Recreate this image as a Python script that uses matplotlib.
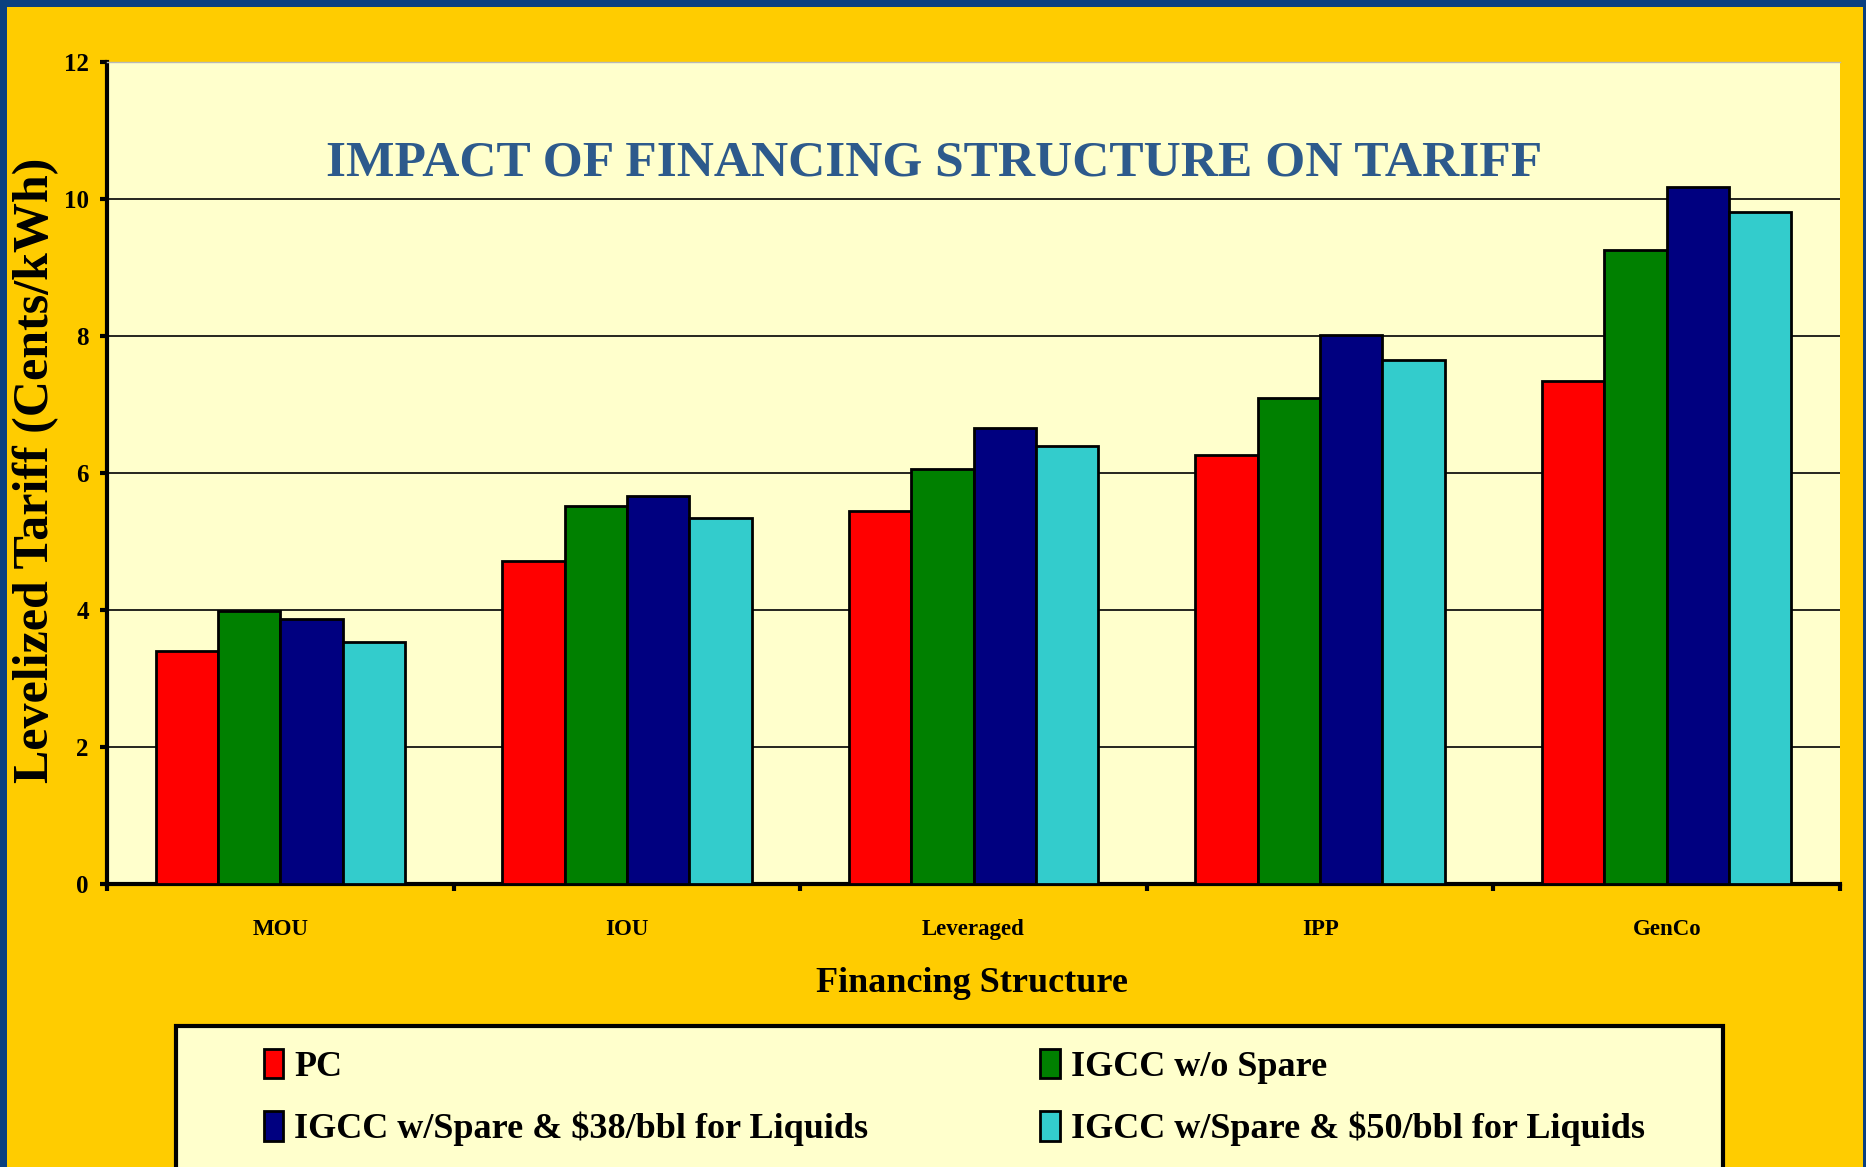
import matplotlib
matplotlib.use("Agg")
import matplotlib.pyplot as plt
from matplotlib.patches import Rectangle, Patch
import numpy as np

plt.rcParams['font.family'] = ['Liberation Serif', 'DejaVu Serif']
plt.rcParams['font.weight'] = 'bold'

# data
categories = ['MOU', 'IOU', 'Leveraged', 'IPP', 'GenCo']
series_names = ['PC', 'IGCC w/o Spare',
                'IGCC w/Spare & $38/bbl for Liquids',
                'IGCC w/Spare & $50/bbl for Liquids']
pc = [3.40, 4.72, 5.45, 6.27, 7.35]
igcc_no_spare = [3.99, 5.52, 6.06, 7.09, 9.25]
igcc_38 = [3.87, 5.66, 6.66, 8.01, 10.17]
igcc_50 = [3.54, 5.35, 6.39, 7.65, 9.81]
colors = ['#FF0000', '#008000', '#000080', '#33CCCC']

W, H = 1866, 1167
fig = plt.figure(figsize=(W / 100, H / 100), dpi=100, facecolor='#0B4080')

# yellow slide panel
fig.patches.append(Rectangle((7 / W, 0), (1863 - 7) / W, 1 - 7 / H,
                             transform=fig.transFigure, facecolor='#FFCC00',
                             edgecolor='none', zorder=0))

ax = fig.add_axes([107 / W, 1 - 884 / H, (1840 - 107) / W, (884 - 62) / H])
ax.set_zorder(3)
ax.set_facecolor('#FFFFCC')

x = np.arange(len(categories))
bw = 0.18
all_series = [pc, igcc_no_spare, igcc_38, igcc_50]
for i in range(len(all_series)):
    ax.bar(x + (i - 1.5) * bw, all_series[i], bw, color=colors[i],
           edgecolor='black', linewidth=2, zorder=3)

ax.set_ylim(0, 12)
ax.set_xlim(-0.5, len(categories) - 0.5)
ax.set_yticks([0, 2, 4, 6, 8, 10, 12])
ax.yaxis.grid(True, color='black', linewidth=1.2)
ax.set_axisbelow(True)

ax.set_xticks(np.arange(len(categories) + 1) - 0.5)
ax.set_xticklabels([])
ax.set_xticks(x, minor=True)
ax.set_xticklabels(categories, minor=True, fontsize=16.5, fontweight='bold')
ax.tick_params(axis='x', which='major', direction='out', length=5, width=3)
ax.tick_params(axis='x', which='minor', length=0, pad=25)
ax.tick_params(axis='y', direction='out', length=5, width=3, pad=8, labelsize=18)
for lab in ax.get_yticklabels():
    lab.set_fontweight('bold')

ax.spines['left'].set_linewidth(3)
ax.spines['bottom'].set_linewidth(3)
ax.spines['top'].set_color('#B8B8B8')
ax.spines['top'].set_linewidth(1)
ax.spines['right'].set_visible(False)

ax.text(0.477, 0.877, 'IMPACT OF FINANCING STRUCTURE ON TARIFF',
        transform=ax.transAxes, ha='center', va='center', fontsize=37,
        fontweight='bold', color='#2D5A8C')

fig.text(36 / W, 1 - 470 / H, 'Levelized Tariff (Cents/kWh)', rotation=90,
         ha='center', va='center', fontsize=36, fontweight='bold')
fig.text(972 / W, 1 - 983 / H, 'Financing Structure', ha='center',
         va='center', fontsize=26, fontweight='bold')

# legend box, runs off the bottom of the slide
fig.patches.append(Rectangle((176 / W, -0.05), (1723 - 176) / W,
                             0.05 + 1 - 1026 / H, transform=fig.transFigure,
                             facecolor='#FFFFCC', edgecolor='black',
                             linewidth=3, zorder=1))
order = [0, 2, 1, 3]
handles = [Patch(facecolor=colors[i], edgecolor='black', linewidth=2)
           for i in order]
labels = [series_names[i] for i in order]
leg = fig.legend(handles, labels, loc='upper left',
                 bbox_to_anchor=(231 / W, 1 - 1016 / H), ncol=2, frameon=False,
                 prop={'size': 26, 'weight': 'bold'}, handlelength=0.55,
                 handleheight=0.9, handletextpad=0.3, columnspacing=4.75,
                 labelspacing=0.75)
leg.set_zorder(6)

fig.savefig('out.png', dpi=100, facecolor=fig.get_facecolor())
